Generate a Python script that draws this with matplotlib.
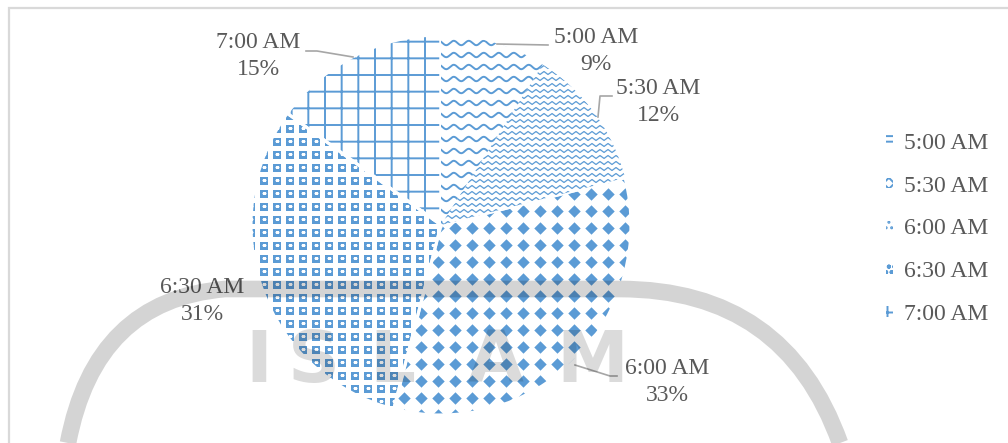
import numpy as np
import matplotlib
matplotlib.use("Agg")
import matplotlib.pyplot as plt
from matplotlib.patches import Rectangle, PathPatch
from matplotlib.path import Path

plt.rcParams["font.family"] = ["Liberation Serif", "DejaVu Serif"]
plt.rcParams["hatch.linewidth"] = 1.4

# survey data: wake-up times
labels = ["5:00 AM", "5:30 AM", "6:00 AM", "6:30 AM", "7:00 AM"]
shares = [9, 12, 33, 31, 15]

W, H = 1008, 443
BLUE = "#5B9BD5"
TEXT = "#595959"
LEADER = "#A6A6A6"

fig = plt.figure(figsize=(W / 100, H / 100), dpi=100)
ax = fig.add_axes([0, 0, 1, 1])

cx, cy, R = 441, H - 225, 190

wedges, _ = ax.pie(shares, startangle=90, counterclock=False, center=(cx, cy),
                   radius=R, colors=["white"] * 5,
                   wedgeprops=dict(linewidth=0))
ax.set_xlim(0, W)
ax.set_ylim(0, H)
ax.set_aspect("equal")
ax.axis("off")

x0, x1, y0, y1 = cx - R, cx + R, cy - R, cy + R
xs = np.linspace(x0, x1, 1200)

# 5:00 -- wavy lines
w = wedges[0]
for yy in np.arange(y0, y1, 12):
    ln, = ax.plot(xs, yy + 2.2 * np.sin(2 * np.pi * xs / 15), color=BLUE, lw=1.4)
    ln.set_clip_path(w)

# 5:30 -- tight zigzag
w = wedges[1]
tri = 3.0 * (2 * np.abs(((xs / 8) % 1) - 0.5) - 0.5)
for yy in np.arange(y0, y1, 6):
    ln, = ax.plot(xs, yy + tri, color=BLUE, lw=0.9)
    ln.set_clip_path(w)

# 6:00 -- diamond grid
w = wedges[2]
gx, gy = np.meshgrid(np.arange(x0, x1, 17), np.arange(y0, y1, 17))
sc = ax.scatter(gx.ravel(), gy.ravel(), marker="D", s=40, color=BLUE, lw=0)
sc.set_clip_path(w)

# 6:30 -- block pattern
w = wedges[3]
gx, gy = np.meshgrid(np.arange(x0, x1, 13), np.arange(y0, y1, 13))
sc = ax.scatter(gx.ravel(), gy.ravel(), marker="s", s=36, color=BLUE, lw=0)
sc.set_clip_path(w)
sc = ax.scatter(gx.ravel(), gy.ravel() + 1.5, marker="_", s=10, color="white", lw=1.0)
sc.set_clip_path(w)

# 7:00 -- square grid
wedges[4].set_hatch("+")
wedges[4].set_edgecolor(BLUE)

# white separators between slices
ax.pie(shares, startangle=90, counterclock=False, center=(cx, cy), radius=R,
       colors=["none"] * 5, wedgeprops=dict(linewidth=2.2, edgecolor="white"))
ax.set_xlim(0, W)
ax.set_ylim(0, H)
ax.axis("off")

# data labels with leader lines
label_pos = {
    "5:00 AM": (596, 51),
    "5:30 AM": (658, 102),
    "6:00 AM": (667, 382),
    "6:30 AM": (202, 301),
    "7:00 AM": (258, 56),
}
leaders = {
    "5:00 AM": [(497, 44), (548, 45)],
    "5:30 AM": [(598, 117), (600, 96), (612, 96)],
    "6:00 AM": [(575, 365), (610, 376), (617, 376)],
    "7:00 AM": [(353, 57), (317, 51), (306, 51)],
}
for lab, val in zip(labels, shares):
    px, py = label_pos[lab]
    ax.text(px, H - py, f"{lab}\n{val}%", ha="center", va="center",
            fontsize=17, color=TEXT, linespacing=1.4, zorder=6)
    if lab in leaders:
        pts = np.array(leaders[lab], dtype=float)
        ax.plot(pts[:, 0], H - pts[:, 1], color=LEADER, lw=1.2, zorder=6)

# legend
hatches = ["---", "xxx", "...", "ooo", "++"]
handles = [Rectangle((0, 0), 1, 1, facecolor="white", edgecolor=BLUE, hatch=h, lw=0)
           for h in hatches]
leg = ax.legend(handles, labels, loc="center left",
                bbox_to_anchor=(874 / W, 1 - 229 / H), frameon=False,
                fontsize=17, handlelength=0.3, handleheight=0.3,
                handletextpad=0.45, labelspacing=0.92, borderpad=0)
for t in leg.get_texts():
    t.set_color(TEXT)

# faint watermark logo
verts = [(68, 443), (95, 300), (225, 289), (620, 289),
         (785, 289), (840, 443)]
codes = [Path.MOVETO, Path.CURVE3, Path.CURVE3, Path.LINETO,
         Path.CURVE3, Path.CURVE3]
ring = Path([(x, H - y) for x, y in verts], codes)
ax.add_patch(PathPatch(ring, fill=False, edgecolor="black", alpha=0.17,
                       lw=12, capstyle="butt", zorder=8))
for ch, lx in zip("ISLAM", [259, 314, 392, 496, 592]):
    ax.text(lx, H - 382, ch, ha="center", va="baseline", fontsize=52,
            family="DejaVu Sans", fontweight="bold", color="black",
            alpha=0.14, zorder=8)

# chart area border
fig.patches.append(Rectangle((8.5 / W, -0.1), 1.1, (H - 7.5) / H + 0.1,
                             transform=fig.transFigure, fill=False,
                             edgecolor="#D9D9D9", lw=1.6))

fig.savefig("out.png", dpi=100)
